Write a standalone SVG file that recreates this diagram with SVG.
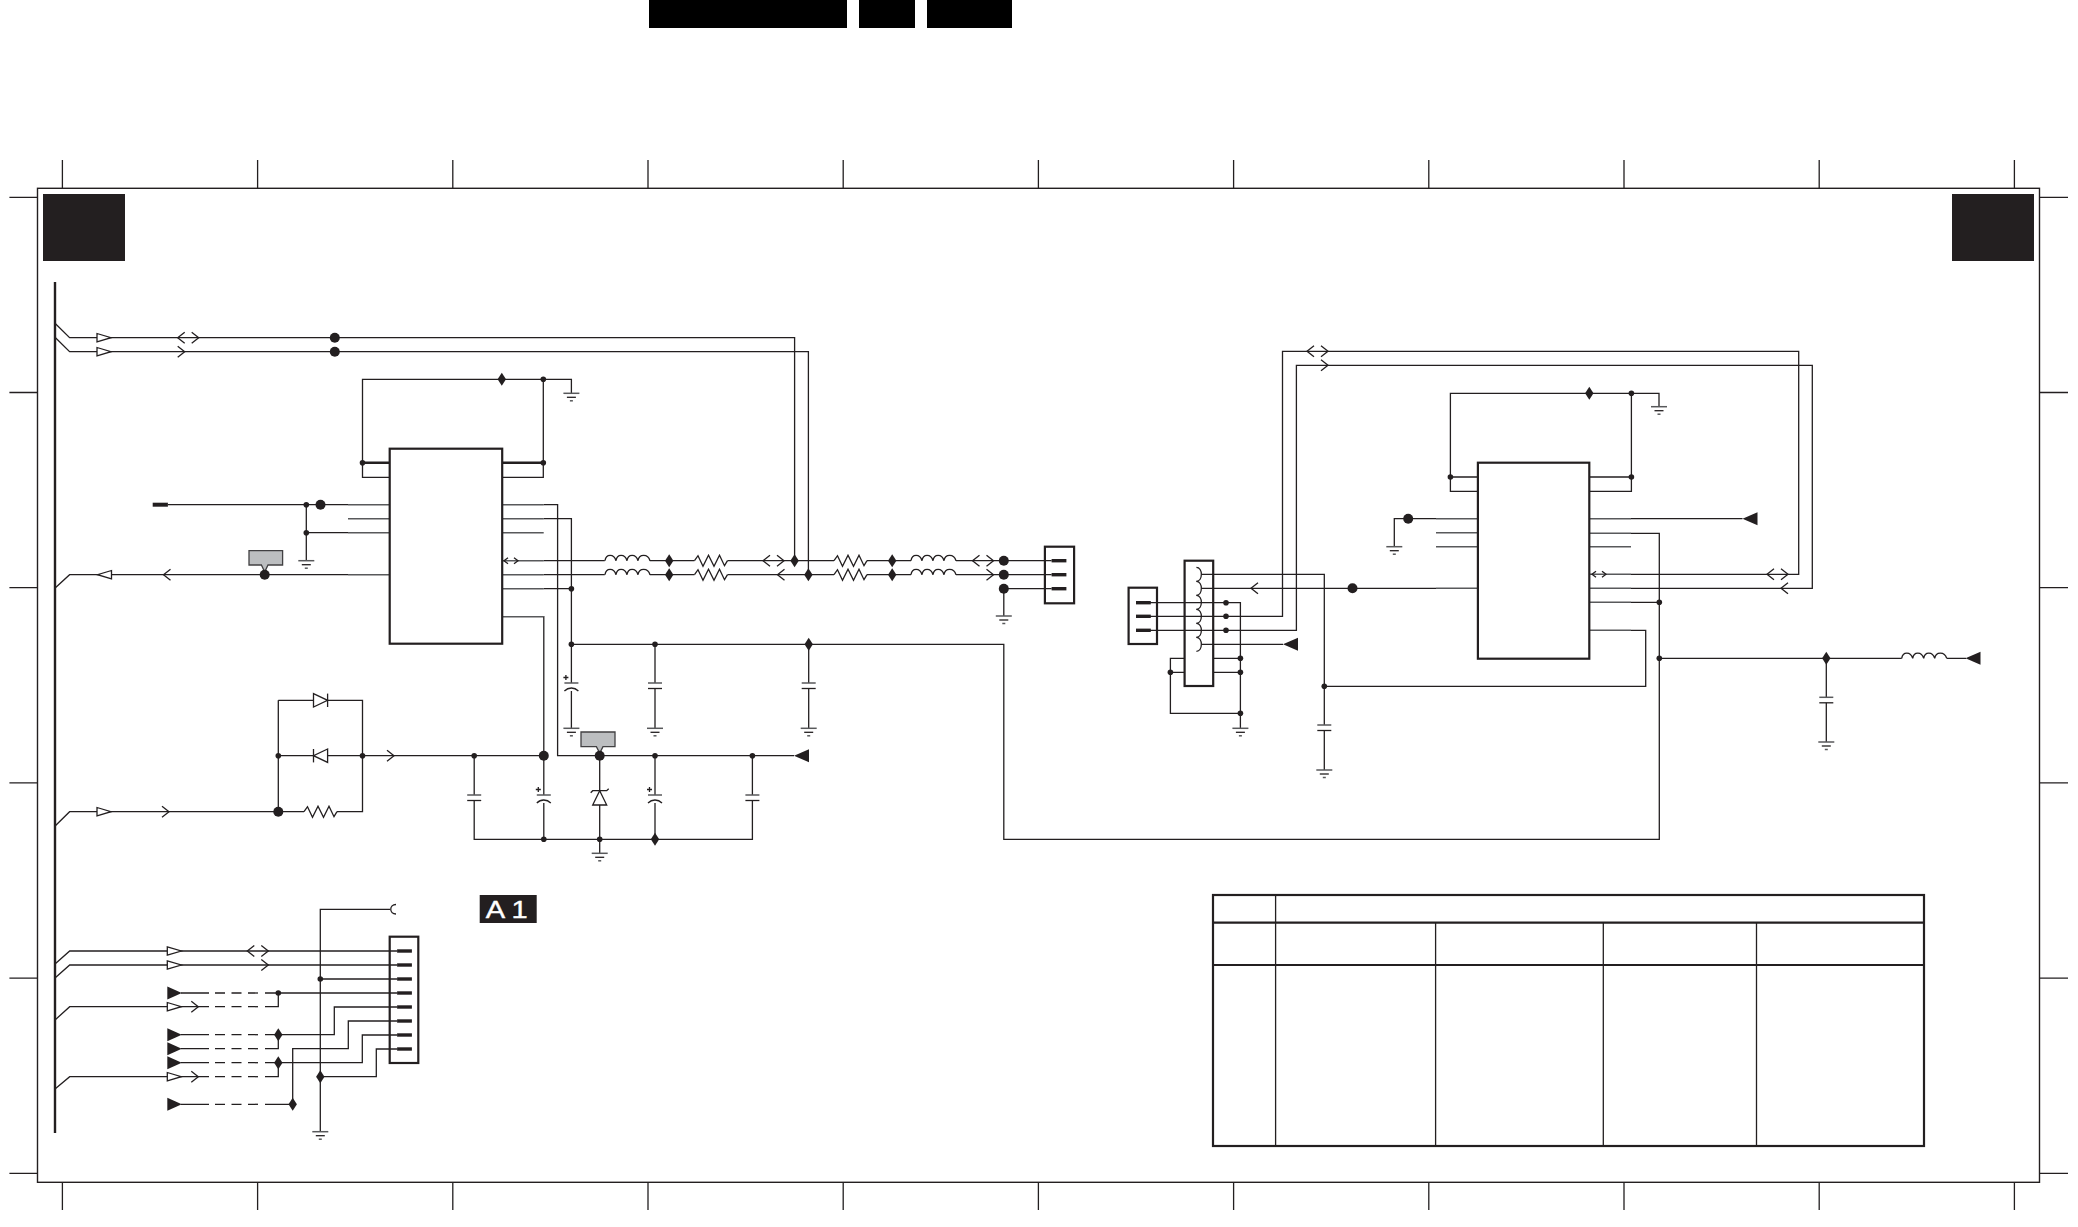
<svg xmlns="http://www.w3.org/2000/svg" width="2078" height="1227" viewBox="0 0 2078 1227">
<style>
.w{fill:none;stroke:#231f20;stroke-width:1.3}
.t{fill:none;stroke:#231f20;stroke-width:2.4}
.p{fill:none;stroke:#58595b;stroke-width:1.5}
.d{fill:none;stroke:#231f20;stroke-width:1.3;stroke-dasharray:10 6.5}
.k{fill:#231f20;stroke:none}
.o{fill:#fff;stroke:#231f20;stroke-width:1.3}
.b{fill:none;stroke:#231f20;stroke-width:2.2}
.g{fill:#bcbec0;stroke:#414042;stroke-width:1.3}
text{font-family:"Liberation Sans",Arial,sans-serif}
</style>
<defs>
<circle id="dot" class="k" r="2.8"/>
<circle id="big" class="k" r="5"/>
<polygon id="dia" class="k" points="0,-6.5 4.2,0 0,6.5 -4.2,0"/>
<g id="gnd"><path class="p" d="M-8 0H8"/><path class="w" d="M-4.5 4H4.5"/><path class="p" d="M-1.5 7.5H1.5"/></g>
<polygon id="otr" class="o" points="0,-4.2 14,0 0,4.2"/>
<polygon id="otl" class="o" points="14,-4.2 0,0 14,4.2"/>
<polygon id="str" class="k" points="0,-6.5 14.5,0 0,6.5"/>
<polygon id="stl" class="k" points="15,-6.5 0,0 15,6.5"/>
<path id="cr" class="w" d="M0 -5.5L7 0L0 5.5"/>
<path id="cl" class="w" d="M7 -5.5L0 0L7 5.5"/>
<g id="cc"><use href="#cl" x="0"/><use href="#cr" x="14"/></g>
<path id="ind" class="w" d="M0 0C1 -7 9 -7 11 0C12 -7 20 -7 22 0C23 -7 31 -7 33 0C34 -7 43 -7 45 0"/>
<path id="res" class="w" d="M0 0L3.5 -5L8.5 5.5L14 -5.5L19.5 5.5L25 -5.5L30 5L33 0"/>
<g id="cap"><path class="p" d="M-7 0H7"/><path class="w" d="M-7 5.5H7"/></g>
<g id="ecap"><path class="p" d="M-7 0H7"/><path class="w" d="M-7 8C-3 4 3 4 7 8"/><path class="w" d="M-8 -5.5H-3M-5.5 -8V-3"/></g>
<path id="coil" class="w" d="M-5.4 -7C1.2 -7 1.2 7 -5.4 7"/>
<rect id="pin" class="k" x="-7.4" y="-1.7" width="14.8" height="3.4"/>
</defs>

<g id="header-bars">
<rect x="649" y="0" width="198" height="28" fill="#000"/>
<rect x="859" y="0" width="56" height="28" fill="#000"/>
<rect x="927" y="0" width="85" height="28" fill="#000"/>
</g>

<g id="frame">
<rect x="37.5" y="188.3" width="2002" height="994" fill="none" stroke="#231f20" stroke-width="1.4"/>
<path class="w" d="M62.4 160V188M257.6 160V188M452.8 160V188M648 160V188M843.2 160V188M1038.4 160V188M1233.6 160V188M1428.8 160V188M1624 160V188M1819.2 160V188M2014.4 160V188"/>
<path class="w" d="M62.4 1182V1210M257.6 1182V1210M452.8 1182V1210M648 1182V1210M843.2 1182V1210M1038.4 1182V1210M1233.6 1182V1210M1428.8 1182V1210M1624 1182V1210M1819.2 1182V1210M2014.4 1182V1210"/>
<path class="w" d="M9.4 197.3H37.5M9.4 392.5H37.5M9.4 587.7H37.5M9.4 782.9H37.5M9.4 978.1H37.5M9.4 1173.3H37.5"/>
<path class="w" d="M2039.5 197.3H2068M2039.5 392.5H2068M2039.5 587.7H2068M2039.5 782.9H2068M2039.5 978.1H2068M2039.5 1173.3H2068"/>
<rect x="43" y="194" width="82" height="67" fill="#231f20"/>
<rect x="1952" y="194" width="82" height="67" fill="#231f20"/>
</g>

<g id="connectors">
<path class="t" d="M55 282V1133"/>
<path class="w" d="M55 323.3L69.6 337.7H794.6V560.7"/>
<path class="w" d="M55 337.3L69.6 351.7H808.4V574.7"/>
<path class="w" d="M571.4 393.3V379.3H362.5V477.3H389.7M543.3 379.3V477.3H502.2"/>
<path class="t" d="M362.5 462.7H389.7M502.2 462.7H543.3"/>
<path class="w" d="M168 504.7H348M306.3 504.7V560.7M306.3 532.7H348"/>
<path class="w" d="M55.4 587.7L69.6 574.7H348"/>
<path class="p" d="M348 504.7H389.7M348 518.7H389.7M348 532.7H389.7M348 574.7H389.7"/>
<path class="p" d="M502.2 504.7H543.7M502.2 518.7H543.7M502.2 532.7H543.7M502.2 560.7H543.7M502.2 574.7H543.7M502.2 588.7H543.7M502.2 616.7H543.7"/>
<path class="w" d="M543.7 504.7H557.6V755.7H794"/>
<path class="w" d="M543.7 518.7H571.4V683M571.4 691V728.3M543.7 588.7H571.4"/>
<path class="w" d="M543.7 560.7H604.8M649.8 560.7H694.5M727.5 560.7H834M867 560.7H911M956 560.7H1051.6"/>
<path class="w" d="M543.7 574.7H604.8M649.8 574.7H694.5M727.5 574.7H834M867 574.7H911M956 574.7H1051.6"/>
<path class="w" d="M1003.8 588.7H1051.6M1003.8 588.7V616"/>
<path class="w" d="M543.7 616.7H543.8V795M543.8 803V839.3"/>
<path class="w" d="M571.4 644.3H1003.8V839.3H1659.3V533.3H1631"/>
<path class="w" d="M655 644.3V683M655 688.7V728.3M808.7 644.3V683M808.7 688.7V728.3"/>
<path class="w" d="M278.3 700.3H362.5V811.7H337M278.3 700.3V811.7M278.3 755.7H543.8"/>
<path class="w" d="M55.6 825.5L69.6 811.7H304"/>
<path class="w" d="M474.2 755.7V795M474.2 800.5V839.3H752.4V800.5M752.4 755.7V795"/>
<path class="w" d="M655 755.7V795M655 803V839.3M599.7 755.7V853.3"/>

<path class="w" d="M1136 602.7H1240.4V713.3H1170.4V658.3H1184.6M1170.4 672.3H1184.6M1213.2 658.3H1240.4M1213.2 672.3H1240.4M1240.4 713.3V728.3"/>
<path class="w" d="M1150 616.3H1282.5V351.3H1798.7V574.3H1631"/>
<path class="w" d="M1150 630.3H1296.4V365.3H1812.3V588.3H1631"/>
<path class="w" d="M1201.8 574.3H1324.3V725M1324.3 730.5V770M1201.8 588.3H1436M1201.8 644.3H1283"/>
<path class="w" d="M1394.3 546.7V518.7H1436"/>
<path class="p" d="M1436 518.7H1477.9M1436 532.7H1477.9M1436 546.7H1477.9M1436 588.3H1477.9"/>
<path class="p" d="M1589.3 518.7H1631M1589.3 533.3H1631M1589.3 546.7H1631M1589.3 574.3H1631M1589.3 588.3H1631M1589.3 602.3H1631M1589.3 630.3H1631"/>
<path class="w" d="M1631 518.7H1742.5M1631 602.3H1659.3M1631 630.3H1645.7V686.3H1324.3"/>
<path class="w" d="M1659.3 658.3H1901.7M1946.7 658.3H1966M1826.3 658.3V697.3M1826.3 702.7V742"/>
<path class="w" d="M1659 406.7V393.3H1450.4V491.3H1477.9M1450.4 477H1477.9M1631.4 393.3V491.3H1589.3M1589.3 477H1631.4"/>

<path class="w" d="M55 964L69.7 951H397M55 978L69.7 965H397"/>
<path class="w" d="M320.3 1131.7V909.3H390M320.3 979H397"/>
<path class="w" d="M181 993H209M265 993H397"/>
<path class="d" d="M215 993H259.3"/>
<path class="w" d="M55 1020L69.7 1006.7H209M265 1006.7H278.3V993"/>
<path class="d" d="M215 1006.7H259.3"/>
<path class="w" d="M181 1034.7H209M265 1034.7H334.3V1007H397"/>
<path class="d" d="M215 1034.7H259.3"/>
<path class="w" d="M181 1048.7H209M265 1048.7H278.3V1034.7M292.7 1104.3V1048.7H348.3V1021H397"/>
<path class="d" d="M215 1048.7H259.3"/>
<path class="w" d="M181 1062.7H209M265 1062.7H362.3V1035H397"/>
<path class="d" d="M215 1062.7H259.3"/>
<path class="w" d="M55 1089L69.7 1076.7H209M265 1076.7H278.3V1062.7M320.3 1076.7H376.3V1049H397"/>
<path class="d" d="M215 1076.7H259.3"/>
<path class="w" d="M181 1104.3H209M265 1104.3H292.7"/>
<path class="d" d="M215 1104.3H259.3"/>
</g>

<g id="ic-left"><rect class="b" x="389.7" y="448.7" width="112.5" height="195"/></g>
<g id="ic-right"><rect class="b" x="1477.9" y="462.7" width="111.4" height="196"/></g>

<g id="conn-left-output">
<rect class="b" x="1044.9" y="546.7" width="29.2" height="56.6"/>
<use href="#pin" x="1059" y="560.7"/><use href="#pin" x="1059" y="574.7"/><use href="#pin" x="1059" y="588.7"/>
</g>
<g id="conn-right-input">
<rect class="b" x="1128.6" y="587.7" width="28.4" height="56.3"/>
<use href="#pin" x="1143.4" y="602.7"/><use href="#pin" x="1143.4" y="616.3"/><use href="#pin" x="1143.4" y="630.3"/>
</g>
<g id="conn-bottom">
<rect class="b" x="389.7" y="936.7" width="28.6" height="126.3"/>
<use href="#pin" x="404.5" y="951"/><use href="#pin" x="404.5" y="965"/><use href="#pin" x="404.5" y="979"/><use href="#pin" x="404.5" y="993"/><use href="#pin" x="404.5" y="1007"/><use href="#pin" x="404.5" y="1021"/><use href="#pin" x="404.5" y="1035"/><use href="#pin" x="404.5" y="1049"/>
</g>
<g id="module-coils">
<rect class="b" x="1184.6" y="560.7" width="28.6" height="125.3"/>
<use href="#coil" x="1201.8" y="574.3"/><use href="#coil" x="1201.8" y="588.3"/><use href="#coil" x="1201.8" y="602.3"/><use href="#coil" x="1201.8" y="616.3"/><use href="#coil" x="1201.8" y="630.3"/><use href="#coil" x="1201.8" y="644.3"/>
</g>
<g id="table">
<rect x="1213" y="895" width="711" height="251" fill="none" stroke="#231f20" stroke-width="2.2"/>
<path class="b" d="M1213 922.7H1924M1213 965H1924"/>
<path class="w" d="M1275.6 895V1146M1435.6 922.7V1146M1603.3 922.7V1146M1756.5 922.7V1146"/>
</g>
<g id="badge-a1">
<rect x="479.7" y="895" width="57" height="28" fill="#231f20"/>
<text x="485.7" y="918.3" font-size="24" fill="#fff" stroke="#fff" stroke-width="0.4" textLength="42" lengthAdjust="spacingAndGlyphs">A 1</text>
</g>

<g id="tags">
<path class="g" d="M249 550.7H282.6V565H268L264.7 572L261.4 565H249Z"/>
<path class="g" d="M581 732H615V746.7H603L599.7 753L596.4 746.7H581Z"/>
</g>

<g id="passives">
<use href="#ind" x="605" y="560.7"/><use href="#ind" x="605" y="574.7"/>
<use href="#res" x="694.5" y="560.7"/><use href="#res" x="694.5" y="574.7"/>
<use href="#res" x="834" y="560.7"/><use href="#res" x="834" y="574.7"/>
<use href="#ind" x="911" y="560.7"/><use href="#ind" x="911" y="574.7"/>
<use href="#ind" x="1901.7" y="658.3"/>
<use href="#res" x="304" y="811.7"/>
<use href="#ecap" x="571.4" y="683"/><use href="#cap" x="655" y="683"/><use href="#cap" x="808.7" y="683"/>
<use href="#cap" x="474.2" y="795"/><use href="#ecap" x="543.8" y="795"/><use href="#ecap" x="655" y="795"/><use href="#cap" x="752.4" y="795"/>
<use href="#cap" x="1324.3" y="725"/><use href="#cap" x="1826.3" y="697.3"/>
<g id="diode-top"><path class="o" d="M313.5 693.6L327.6 700.3L313.5 707Z"/><path class="w" d="M327.6 693.6V707"/></g>
<g id="diode-mid"><path class="o" d="M327.6 749L313.5 755.7L327.6 762.4Z"/><path class="w" d="M313.5 749V762.4"/></g>
<g id="zener"><path class="o" d="M599.7 790.7L606.7 805H592.7Z"/><path class="w" d="M590.7 792.7L592.7 790.7H606.7L608.7 788.7"/></g>
</g>

<g id="grounds">
<use href="#gnd" x="571.4" y="393.3"/><use href="#gnd" x="306.3" y="560.7"/><use href="#gnd" x="571.4" y="728.3"/><use href="#gnd" x="655" y="728.3"/><use href="#gnd" x="808.7" y="728.3"/><use href="#gnd" x="599.7" y="853.3"/><use href="#gnd" x="1003.8" y="616"/>
<use href="#gnd" x="1240.4" y="728.3"/><use href="#gnd" x="1324.3" y="770"/><use href="#gnd" x="1394.3" y="546.7"/><use href="#gnd" x="1659" y="406.7"/><use href="#gnd" x="1826.3" y="742"/><use href="#gnd" x="320.3" y="1131.7"/>
</g>

<g id="markers">
<rect class="k" x="152.7" y="502.7" width="15.2" height="4"/>
<use href="#otr" x="97" y="337.7"/><use href="#otr" x="97" y="351.7"/><use href="#otl" x="97.5" y="574.7"/><use href="#otr" x="97" y="811.7"/>
<use href="#cc" x="177.7" y="337.7"/><use href="#cr" x="177.7" y="351.7"/><use href="#cl" x="163.5" y="574.7"/><use href="#cr" x="387" y="755.7"/><use href="#cr" x="162" y="811.7"/>
<use href="#cc" x="763" y="560.7"/><use href="#cl" x="777.5" y="574.7"/><use href="#cc" x="972.5" y="560.7"/><use href="#cr" x="986.5" y="574.7"/>
<path class="w" d="M508 557.7L504 560.7L508 563.7M514 557.7L518 560.7L514 563.7"/>
<path class="w" d="M1596 571.3L1592 574.3L1596 577.3M1602 571.3L1606 574.3L1602 577.3"/>
<use href="#cc" x="1307" y="351.3"/><use href="#cr" x="1321" y="365.3"/><use href="#cl" x="1251" y="588.3"/>
<use href="#cc" x="1767" y="574.3"/><use href="#cl" x="1781" y="588.3"/>
<use href="#stl" x="794" y="755.7"/><use href="#stl" x="1283" y="644.3"/><use href="#stl" x="1742.5" y="518.7"/><use href="#stl" x="1965.5" y="658.3"/>
<path class="w" d="M396 904.5C389 904.5 389 914 396 914"/>
<use href="#otr" x="167.3" y="951"/><use href="#otr" x="167.3" y="965"/><use href="#otr" x="167.3" y="1006.7"/><use href="#otr" x="167.3" y="1076.7"/>
<use href="#cc" x="247.3" y="951"/><use href="#cr" x="261.3" y="965"/><use href="#cr" x="191.3" y="1006.7"/><use href="#cr" x="191.3" y="1076.7"/>
<use href="#str" x="167.3" y="993"/><use href="#str" x="167.3" y="1034.7"/><use href="#str" x="167.3" y="1048.7"/><use href="#str" x="167.3" y="1062.7"/><use href="#str" x="167.3" y="1104.3"/>
</g>

<g id="junctions">
<use href="#big" x="334.8" y="337.7"/><use href="#big" x="334.8" y="351.7"/><use href="#dia" x="501.8" y="379.3"/><use href="#dot" x="543.3" y="379.3"/>
<use href="#dot" x="362.5" y="462.7"/><use href="#dot" x="543.3" y="462.7"/><use href="#dot" x="306.3" y="504.7"/><use href="#big" x="320.5" y="504.7"/><use href="#dot" x="306.3" y="532.7"/><use href="#big" x="264.7" y="574.7"/>
<use href="#dot" x="571.4" y="588.7"/><use href="#dot" x="571.4" y="644.3"/><use href="#dot" x="655" y="644.3"/><use href="#dia" x="808.7" y="644.3"/>
<use href="#dia" x="669.2" y="560.7"/><use href="#dia" x="669.2" y="574.7"/><use href="#dia" x="794.6" y="560.7"/><use href="#dia" x="808.4" y="574.7"/><use href="#dia" x="892.2" y="560.7"/><use href="#dia" x="892.2" y="574.7"/>
<use href="#big" x="1003.8" y="560.7"/><use href="#big" x="1003.8" y="574.7"/><use href="#big" x="1003.8" y="588.7"/>
<use href="#dot" x="278.3" y="755.7"/><use href="#dot" x="362.5" y="755.7"/><use href="#big" x="278.3" y="811.7"/><use href="#dot" x="474.2" y="755.7"/><use href="#big" x="543.8" y="755.7"/><use href="#big" x="599.7" y="755.7"/><use href="#dot" x="655" y="755.7"/><use href="#dot" x="752.4" y="755.7"/>
<use href="#dot" x="543.8" y="839.3"/><use href="#dot" x="599.7" y="839.3"/><use href="#dia" x="655" y="839.3"/>
<use href="#dot" x="1226" y="602.7"/><use href="#dot" x="1226" y="616.3"/><use href="#dot" x="1226" y="630.3"/><use href="#dot" x="1240.4" y="658.3"/><use href="#dot" x="1240.4" y="672.3"/><use href="#dot" x="1170.4" y="672.3"/><use href="#dot" x="1240.4" y="713.3"/><use href="#dot" x="1324.3" y="686.3"/>
<use href="#big" x="1352.5" y="588.3"/><use href="#big" x="1408.2" y="518.7"/>
<use href="#dia" x="1589.3" y="393.3"/><use href="#dot" x="1631.4" y="393.3"/><use href="#dot" x="1450.4" y="477"/><use href="#dot" x="1631.4" y="477"/>
<use href="#dot" x="1659.3" y="602.3"/><use href="#dot" x="1659.3" y="658.3"/><use href="#dia" x="1826.3" y="658.3"/>
<use href="#dot" x="320.3" y="979"/><use href="#dot" x="278.3" y="993"/><use href="#dia" x="278.3" y="1034.7"/><use href="#dia" x="278.3" y="1062.7"/><use href="#dia" x="320.3" y="1076.7"/><use href="#dia" x="292.7" y="1104.3"/>
</g>
</svg>
